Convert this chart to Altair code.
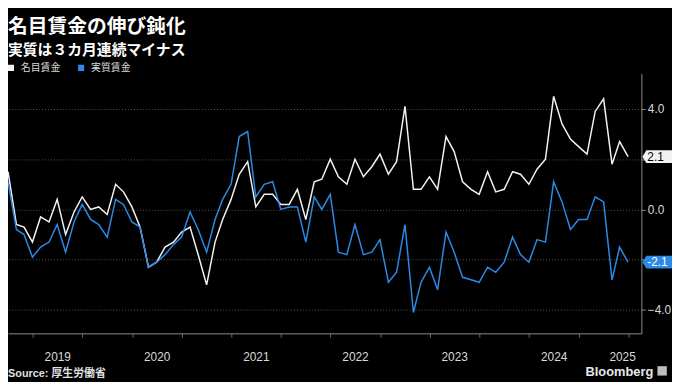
import altair as alt
import pandas as pd

# ---------------- data ----------------
months = pd.date_range("2018-12-31", periods=76, freq="ME").strftime("%Y-%m-%d").tolist()

nominal = [1.5, -0.6, -0.7, -1.3, -0.3, -0.5, 0.4, -1.0, -0.1, 0.5, 0.0, 0.1,
           -0.2, 1.0, 0.7, 0.1, -0.7, -2.3, -2.1, -1.5, -1.3, -0.9, -0.7, -1.8,
           -3.0, -1.3, -0.4, 0.4, 1.4, 1.9, 0.1, 0.6, 0.6, 0.2, 0.2, 0.8,
           -0.4, 1.1, 1.2, 2.0, 1.3, 1.0, 2.0, 1.3, 1.7, 2.2, 1.4, 1.9,
           4.1, 0.8, 0.8, 1.3, 0.8, 2.9, 2.3, 1.1, 0.8, 0.6, 1.5, 0.7,
           0.8, 1.5, 1.4, 1.0, 1.6, 2.0, 4.5, 3.4, 2.8, 2.5, 2.2, 3.9,
           4.4, 1.8, 2.7, 2.1]

real = [1.1, -0.8, -1.0, -1.9, -1.5, -1.3, -0.6, -1.7, -0.5, 0.2, -0.4, -0.6,
        -1.1, 0.4, 0.2, -0.5, -0.7, -2.3, -2.1, -1.8, -1.4, -1.1, -0.1, -0.8,
        -1.7, -0.4, 0.4, 1.0, 2.9, 3.1, 0.5, 1.0, 1.1, 0.0, 0.1, 0.1,
        -1.3, 0.5, 0.0, 0.6, -1.7, -1.8, -0.6, -1.8, -1.7, -1.2, -2.9, -2.5,
        -0.6, -4.1, -2.9, -2.3, -3.2, -0.9, -1.7, -2.7, -2.8, -2.9, -2.3, -2.5,
        -2.1, -1.1, -1.8, -2.1, -1.2, -1.3, 1.1, 0.3, -0.8, -0.4, -0.4, 0.5,
        0.3, -2.8, -1.5, -2.1]

series_names = ["名目賃金", "実質賃金"]
series_colors = ["#f2f2f2", "#2b8ae6"]
year_labels = ["2019", "2020", "2021", "2022", "2023", "2024", "2025"]
y_ticks = [4, 2, 0, -2, -4]

title_text = "名目賃金の伸び鈍化"
subtitle_text = "実質は３カ月連続マイナス"
source_text = "Source: 厚生労働省"
brand_text = "Bloomberg"

# ---------------- layout ----------------
TOP = 64
W, H = 641, 263
X_START = pd.Timestamp("2018-12-31")
X_END = pd.Timestamp("2025-05-19")
Y_MIN, Y_MAX = -4.93, 5.41
CJK = "Noto Sans CJK JP"
LAT = "Liberation Sans"

df = pd.DataFrame({
    "date": months * 2,
    "value": nominal + real,
    "series": [series_names[0]] * len(nominal) + [series_names[1]] * len(real),
})

last = pd.DataFrame({
    "series": series_names,
    "value": [nominal[-1], real[-1]],
    "label": [f"{nominal[-1]:.1f}", f"{real[-1]:.1f}"],
})

# year label positions: middle of each year span inside the domain
mids = []
for y in year_labels:
    a = pd.Timestamp(f"{y}-01-01")
    b = min(pd.Timestamp(f"{int(y) + 1}-01-01"), X_END)
    mids.append((a + (b - a) / 2).strftime("%Y-%m-%d"))
years_df = pd.DataFrame({"label": year_labels, "mid": mids})


def dt(ts):
    return alt.DateTime(year=ts.year, month=ts.month, date=ts.day, utc=True)


quarter_ticks = [dt(t) for t in pd.date_range("2019-04-01", "2025-04-01", freq="QS")]

x_scale = alt.Scale(type="utc", domain=[dt(X_START), dt(X_END)])
y_scale = alt.Scale(domain=[Y_MIN, Y_MAX], nice=False, zero=False)
color_scale = alt.Scale(domain=series_names, range=series_colors)

is_jan = "utcmonth(datum.value) == 0"

x_axis = alt.Axis(
    orient="bottom", values=quarter_ticks, labels=False, title=None,
    domainColor="#8a8a8a", domainWidth=1,
    tickColor="#6a6a6a", tickWidth=1,
    tickSize={"condition": {"test": is_jan, "value": 30}, "value": 4},
    grid=True, gridColor="#555555", gridDash=[1, 2], gridWidth=1,
    gridOpacity={"condition": {"test": is_jan, "value": 1}, "value": 0},
)
y_axis = alt.Axis(
    orient="right", values=y_ticks, title=None, format=".1f",
    labelExpr="abs(datum.value) == 2 ? '' : datum.label",
    domainColor="#8a8a8a", tickColor="#8a8a8a", tickSize=4,
    labelColor="#d9d9d9", labelFont=LAT, labelFontSize=12, labelPadding=2,
    grid=True, gridColor="#555555", gridDash=[1, 2], gridWidth=1,
)

lines = alt.Chart(df).mark_line(strokeWidth=1.5).encode(
    x=alt.X("date:T", scale=x_scale, axis=x_axis),
    y=alt.Y("value:Q", scale=y_scale, axis=y_axis),
    color=alt.Color(
        "series:N", scale=color_scale,
        legend=alt.Legend(
            title=None, orient="none", legendX=-2, legendY=-11,
            direction="horizontal", symbolType="square", symbolSize=16,
            symbolStrokeWidth=2.2, labelFont=CJK, labelFontSize=10,
            labelColor="#d9d9d9", labelOffset=5, columnPadding=14, padding=0,
        ),
    ),
    order=alt.Order("date:T"),
)

flag_path = "M -1 0 L -0.73 -0.43 L 1 -0.43 L 1 0.43 L -0.73 0.43 Z"
flags = alt.Chart(last).mark_point(
    shape=flag_path, filled=True, size=900, opacity=1, strokeWidth=0
).encode(
    x=alt.value(W + 16),
    y=alt.Y("value:Q", scale=y_scale),
    color=alt.Color("series:N", scale=color_scale, legend=None),
)
flag_text = alt.Chart(last).mark_text(
    align="left", baseline="middle", font=LAT, fontSize=12
).encode(
    x=alt.value(W + 6),
    y=alt.Y("value:Q", scale=y_scale),
    text="label:N",
    color=alt.condition(alt.datum.series == series_names[0], alt.value("#000000"), alt.value("#ffffff")),
)

year_text = alt.Chart(years_df).mark_text(
    align="center", baseline="middle", font=LAT, fontSize=12, color="#d9d9d9"
).encode(
    x=alt.X("mid:T", scale=x_scale),
    y=alt.value(H + 23.5),
    text="label:N",
)


def label(text, x, y, size, weight="normal", align="left", color="#ffffff", font=CJK):
    return alt.Chart(pd.DataFrame({"t": [text]})).mark_text(
        align=align, baseline="alphabetic", font=font, fontSize=size,
        fontWeight=weight, color=color,
    ).encode(x=alt.value(x), y=alt.value(y), text="t:N")


title = label(title_text, 0, 23 - TOP, 20, "bold")
subtitle = label(subtitle_text, 0, 45 - TOP, 15, "bold")
source = label(source_text, 0, H + 44, 11, "bold", color="#e0e0e0", font=f"{LAT}, {CJK}")
brand = label(brand_text, 653, H + 43, 13, "bold", align="right", color="#e8e8e8", font=LAT)
logo = alt.Chart(pd.DataFrame({"t": [brand_text]})).mark_point(
    shape="square", filled=True, size=90, color="#bdbdbd", opacity=1
).encode(x=alt.value(662), y=alt.value(H + 38))

chart = alt.layer(
    lines, flags, flag_text, year_text, title, subtitle, source, brand, logo
).properties(
    width=W, height=H,
    background="#000000",
    autosize=alt.AutoSizeParams(type="none"),
    padding={"left": 0, "top": TOP, "right": 31, "bottom": 47},
).configure_view(stroke=None)

chart.save("out.html", embed_options={"renderer": "svg", "actions": False})
